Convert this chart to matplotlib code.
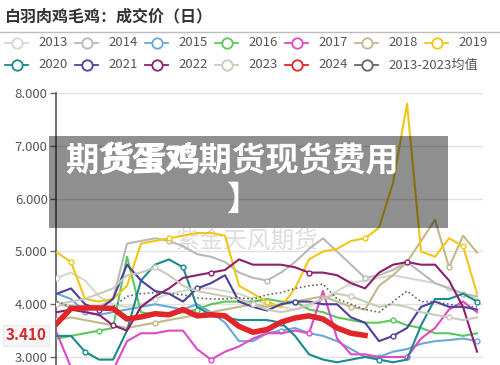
import matplotlib.pyplot as plt
from matplotlib.lines import Line2D
from matplotlib.patches import Rectangle

plt.rcParams['font.family'] = ['Noto Sans CJK SC', 'DejaVu Sans']

# day of year of each sample
days = [1, 13, 25, 37, 49, 61, 73, 85, 97, 109, 121, 133, 145, 157, 169, 181,
        193, 205, 217, 229, 241, 253, 265, 277, 289, 301, 313, 325, 337, 349, 361]

y2013 = [4.5, 4.6, 4.45, 4.15, 4.0, 3.95, 4.0, 4.1, 4.2, 4.25, 4.3, 4.3, 4.25, 4.2, 4.1, 4.0,
         3.95, 3.9, 3.95, 4.1, 4.25, 4.4, 4.45, 4.5, 4.55, 4.5, 4.45, 4.4, 4.3, 4.2, 4.1]
y2014 = [4.0, 3.95, 3.9, 3.95, 4.1, 5.15, 5.2, 5.25, 5.2, 5.1, 4.95, 4.9, 4.8, 4.6, 4.5, 4.45,
         4.6, 4.8, 5.05, 5.25, 5.0, 4.75, 4.5, 4.55, 4.65, 4.8, 4.6, 4.4, 4.3, 4.2, 4.15]
y2015 = [4.2, 4.1, 3.85, 3.8, 3.85, 3.9, 3.95, 4.0, 3.95, 3.9, 4.0, 3.85, 3.65, 3.3, 3.3, 3.45,
         3.5, 3.55, 3.45, 3.4, 3.3, 3.15, 3.0, 3.0, 3.1, 3.15, 3.25, 3.3, 3.32, 3.35, 3.3]
y2016 = [3.35, 3.4, 3.45, 3.5, 3.55, 4.9, 3.85, 3.8, 3.8, 3.85, 3.9, 4.0, 4.05, 4.05, 4.05, 4.1,
         4.05, 4.05, 3.9, 3.85, 3.75, 3.7, 3.65, 3.65, 3.7, 3.6, 3.55, 3.45, 3.45, 3.4, 3.45]
y2017 = [3.45, 2.8, 2.7, 2.7, 2.75, 3.3, 3.45, 3.45, 3.5, 3.5, 3.15, 2.95, 3.1, 3.2, 3.35, 3.45,
         3.45, 3.5, 3.45, 4.25, 3.35, 3.05, 3.05, 3.0, 3.0, 3.0, 3.35, 3.55, 3.9, 4.05, 3.85]
y2018 = [3.7, 3.75, 3.7, 3.65, 3.6, 3.55, 3.6, 3.65, 3.7, 3.75, 3.8, 3.85, 3.9, 3.95, 4.0, 3.95,
         4.0, 4.05, 4.1, 4.15, 4.05, 3.95, 3.9, 4.35, 4.55, 4.8, 5.2, 5.6, 4.7, 5.3, 4.98]
y2019 = [4.98, 4.8, 4.1, 4.05, 4.1, 4.35, 5.15, 5.2, 5.25, 5.3, 5.35, 5.35, 5.3, 4.35, 4.2, 4.05,
         3.95, 4.3, 4.85, 5.0, 5.05, 5.2, 5.25, 5.45, 6.3, 7.8, 5.0, 4.9, 5.25, 5.1, 4.2]
y2020 = [3.4, 3.4, 3.1, 2.95, 2.95, 3.5, 4.45, 4.75, 4.85, 4.7, 3.95, 3.8, 3.75, 3.7, 3.7, 3.7,
         3.65, 3.4, 3.05, 2.95, 2.9, 2.95, 3.0, 2.95, 2.9, 2.95, 3.6, 4.1, 4.1, 4.2, 4.05]
y2021 = [4.2, 4.3, 4.0, 3.9, 4.1, 4.75, 4.45, 4.25, 4.2, 4.05, 4.3, 4.4, 4.55, 4.05, 3.95, 3.88,
         4.0, 4.05, 4.05, 4.0, 4.0, 3.75, 3.65, 3.3, 3.4, 3.55, 3.95, 4.05, 3.95, 3.95, 3.9]
y2022 = [3.85, 3.9, 3.85, 3.8, 3.6, 3.5, 3.95, 4.15, 4.3, 4.5, 4.55, 4.6, 4.65, 4.85, 4.75, 4.75,
         4.75, 4.7, 4.6, 4.6, 4.55, 4.4, 4.3, 4.6, 4.75, 4.8, 4.75, 4.75, 4.45, 3.95, 3.1]
y2023 = [4.0, 4.05, 4.1, 4.2, 4.3, 4.55, 4.6, 4.7, 4.55, 4.35, 4.25, 4.2, 4.15, 4.1, 4.0, 3.9,
         3.85, 3.9, 4.0, 4.1, 4.2, 4.15, 4.05, 3.95, 4.0, 3.95, 3.85, 3.8, 3.75, 3.7, 3.75]
y2024 = [3.64, 3.92, 3.93, 3.93, 3.92, 3.72, 3.76, 3.82, 3.8, 3.9, 3.78, 3.8, 3.78, 3.58, 3.47,
         3.52, 3.66, 3.74, 3.78, 3.72, 3.55, 3.45, 3.41]
y_avg = [4.05, 3.95, 3.9, 3.92, 3.95, 4.15, 4.2, 4.22, 4.2, 4.18, 4.12, 4.1, 4.1, 4.12, 4.1, 4.18,
         4.22, 4.3, 4.35, 4.38, 4.1, 4.0, 3.9, 3.85, 4.05, 4.25, 4.05, 4.05, 4.0, 3.95, 3.95]

labels = ['2013', '2014', '2015', '2016', '2017', '2018', '2019',
          '2020', '2021', '2022', '2023', '2024', '2013-2023均值']
values = [y2013, y2014, y2015, y2016, y2017, y2018, y2019,
          y2020, y2021, y2022, y2023, y2024, y_avg]
colors = ['#d3d9cc', '#b9b9b9', '#6aa8dc', '#5cc85c', '#e048c8', '#c2b888', '#f2c615',
          '#1b8a8e', '#4e3fa0', '#8c1f6e', '#cacabc', '#e0262a', '#666666']

fig = plt.figure(figsize=(5, 3.65), dpi=100)
ax = fig.add_axes([56 / 500, 0, 427 / 500, 272 / 365])

for lab, vals, col in zip(labels, values, colors):
    if lab == '2024':
        ax.plot(days[:len(vals)], vals, color=col, lw=4, zorder=5, solid_joinstyle='round')
    elif lab == '2013-2023均值':
        ax.plot(days, vals, color=col, lw=1.2, ls=(0, (1, 1.5)), zorder=4)
    else:
        ax.plot(days, vals, color=col, lw=1.5, zorder=3, marker='o', ms=3.5,
                mfc='white', mec=col, mew=1, markevery=(labels.index(lab) % 5, 7))

ax.set_xlim(0.14, 366.1)
ax.set_ylim(2.848, 8.005)
ax.set_yticks([3, 4, 5, 6, 7, 8])
ax.set_yticklabels(['3.000', '4.000', '5.000', '6.000', '7.000', '8.000'])
ax.tick_params(axis='y', length=4, width=1, color='#666666', labelcolor='#555555',
               labelsize=9.5, pad=2)
ax.tick_params(axis='x', bottom=False, labelbottom=False)
ax.grid(axis='y', color='#e2e2e2', lw=1)
ax.set_axisbelow(True)
for s in ['top', 'right', 'bottom']:
    ax.spines[s].set_visible(False)
ax.spines['left'].set_color('#555555')
ax.spines['left'].set_linewidth(1.2)

# watermark
ax.text(0.447, 0.455, '紫金天风期货', transform=ax.transAxes, fontsize=17,
        color='#dedede', ha='center', va='center', zorder=1)

# last value label
ax.annotate('3.410', xy=(0, 3.41), xycoords=('axes fraction', 'data'),
            xytext=(-7, 0), textcoords='offset points', ha='right', va='center',
            color='#d42a2a', fontweight='bold', fontsize=11, annotation_clip=False,
            bbox=dict(boxstyle='square,pad=0.15', fc='#f6f6f6', ec='#ececec'))

# title and separator
fig.text(4 / 500, 1 - 16 / 365, '白羽肉鸡毛鸡：成交价（日）', fontsize=11.5,
         fontweight='bold', color='#333333', va='center')
fig.add_artist(Line2D([0, 1], [1 - 32 / 365, 1 - 32 / 365], color='#bdbdbd', lw=1,
                      transform=fig.transFigure))

# legend
for i, (lab, col) in enumerate(zip(labels, colors)):
    x0 = 5 + 70 * (i % 7)
    yy = 1 - (43 + 22 * (i // 7)) / 365
    fig.add_artist(Line2D([x0 / 500, (x0 + 23) / 500], [yy, yy], color=col, lw=1.3,
                          transform=fig.transFigure))
    fig.add_artist(Line2D([(x0 + 12) / 500], [yy], color=col, marker='o', ms=7.5,
                          mfc='white', mew=1.3, transform=fig.transFigure))
    fig.text((x0 + 33) / 500, yy, lab, fontsize=9.5, color='#555555', va='center')

# overlay box with headline
fig.add_artist(Rectangle((49 / 500, 1 - 228 / 365), 399 / 500, 92 / 365,
                         transform=fig.transFigure, fc='black', alpha=0.44, ec='none',
                         zorder=10))
fig.text(65 / 500, 1 - 162 / 365, '期货蛋鸡期货现货费用', fontsize=24, fontweight='heavy',
         color='white', va='center', zorder=11)
fig.text(101 / 500, 1 - 161 / 365, '货蛋鸡', fontsize=24, fontweight='heavy',
         color='white', va='center', zorder=11)
fig.text(226 / 500, 1 - 200 / 365, '】', fontsize=24, fontweight='heavy',
         color='white', va='center', zorder=11)

fig.savefig('out.png', dpi=100)
